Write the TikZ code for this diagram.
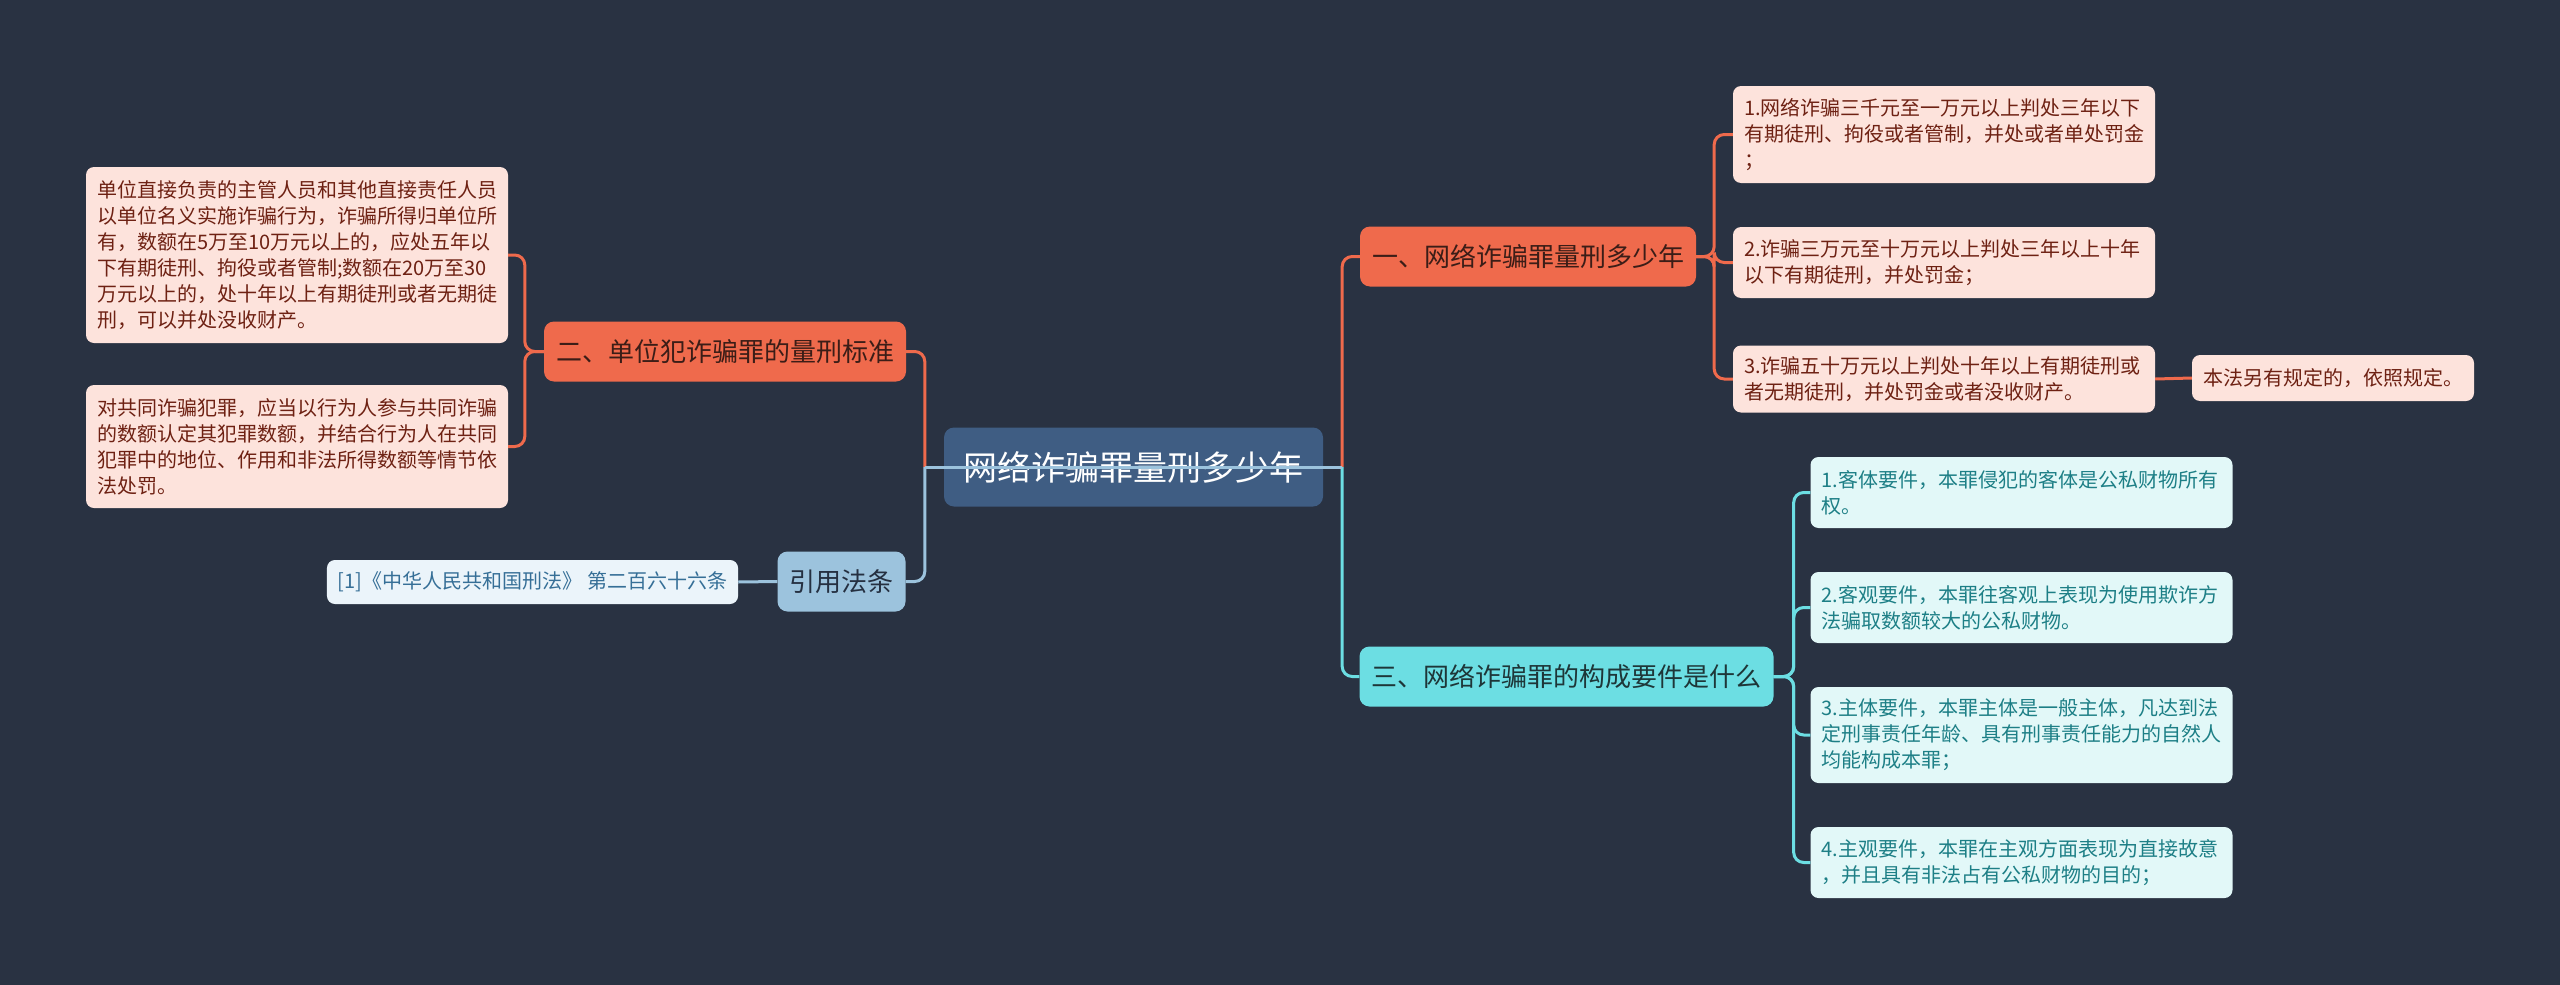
\documentclass[tikz,border=0pt]{standalone}
\usepackage{fontspec}
\newfontfamily\cjk{Noto Sans CJK SC}
\definecolor{bg}{HTML}{293242}
\definecolor{hubblue}{HTML}{3F5D83}
\definecolor{redmain}{HTML}{EF6A4C}
\definecolor{redtext}{HTML}{3B1D17}
\definecolor{redpale}{HTML}{FDE3DC}
\definecolor{redleaftext}{HTML}{6E2113}
\definecolor{cyanmain}{HTML}{6CDEE3}
\definecolor{cyantext}{HTML}{1E3638}
\definecolor{cyanpale}{HTML}{E2F8F8}
\definecolor{cyanleaftext}{HTML}{1D7F86}
\definecolor{refmain}{HTML}{9CC3DD}
\definecolor{reftext}{HTML}{253041}
\definecolor{refpale}{HTML}{EBF4FA}
\definecolor{refleaftext}{HTML}{366F97}
\begin{document}
\begin{tikzpicture}[x=1pt,y=-1pt,
    hub/.style={fill=hubblue,text=white,rounded corners=10pt,minimum width=379pt,minimum height=79pt,font=\cjk\fontsize{34pt}{40pt}\selectfont},
    topic/.style={rounded corners=10pt,inner xsep=12pt,minimum height=60pt,font=\cjk\fontsize{26pt}{30pt}\selectfont},
    redtopic/.style={topic,fill=redmain,text=redtext},
    cyantopic/.style={topic,fill=cyanmain,text=cyantext},
    reftopic/.style={topic,fill=refmain,text=reftext},
    leaf/.style={rounded corners=8pt,inner xsep=11pt,inner ysep=0pt,text width=400pt,align=left,font=\cjk\fontsize{20pt}{26pt}\selectfont},
    redleaf/.style={leaf,fill=redpale,text=redleaftext},
    cyanleaf/.style={leaf,fill=cyanpale,text=cyanleaftext},
    refleaf/.style={leaf,fill=refpale,text=refleaftext,text width=,align=center,minimum width=411pt,minimum height=44pt},
    link/.style={line width=3pt,rounded corners=10pt},
    redlink/.style={link,draw=redmain},
    cyanlink/.style={link,draw=cyanmain},
    reflink/.style={link,draw=refmain}]
  \fill[bg] (0,0) rectangle (2560,985);
  % centre and main topics
  \node[hub] (hub) at (1133.5,467) {网络诈骗罪量刑多少年};
  \node[redtopic] (one) at (1528,256.5) {一、网络诈骗罪量刑多少年};
  \node[redtopic] (two) at (725,351.5) {二、单位犯诈骗罪的量刑标准};
  \node[cyantopic] (three) at (1566.5,676.5) {三、网络诈骗罪的构成要件是什么};
  \node[reftopic] (law) at (841.5,581.5) {引用法条};
  % left side
  \node[redleaf,minimum height=176pt] (twoa) at (297,255) {单位直接负责的主管人员和其他直接责任人员\\以单位名义实施诈骗行为，诈骗所得归单位所\\有，数额在5万至10万元以上的，应处五年以\\下有期徒刑、拘役或者管制;数额在20万至30\\万元以上的，处十年以上有期徒刑或者无期徒\\刑，可以并处没收财产。};
  \node[redleaf,minimum height=123pt] (twob) at (297,446.5) {对共同诈骗犯罪，应当以行为人参与共同诈骗\\的数额认定其犯罪数额，并结合行为人在共同\\犯罪中的地位、作用和非法所得数额等情节依\\法处罚。};
  \node[refleaf] (lawa) at (532.5,582) {[1]《中华人民共和国刑法》 第二百六十六条};
  % right side, first topic
  \node[redleaf,minimum height=97pt] (onea) at (1944,134.5) {1.网络诈骗三千元至一万元以上判处三年以下\\有期徒刑、拘役或者管制，并处或者单处罚金\\；};
  \node[redleaf,minimum height=71pt] (oneb) at (1944,262.5) {2.诈骗三万元至十万元以上判处三年以上十年\\以下有期徒刑，并处罚金；};
  \node[redleaf,minimum height=67pt] (onec) at (1944,379) {3.诈骗五十万元以上判处十年以上有期徒刑或\\者无期徒刑，并处罚金或者没收财产。};
  \node[redleaf,text width=260pt,minimum height=46pt] (onecx) at (2333,378) {本法另有规定的，依照规定。};
  % right side, third topic
  \node[cyanleaf,minimum height=71pt] (threea) at (2021.5,492.5) {1.客体要件，本罪侵犯的客体是公私财物所有\\权。};
  \node[cyanleaf,minimum height=71pt] (threeb) at (2021.5,607.5) {2.客观要件，本罪往客观上表现为使用欺诈方\\法骗取数额较大的公私财物。};
  \node[cyanleaf,minimum height=96pt] (threec) at (2021.5,735) {3.主体要件，本罪主体是一般主体，凡达到法\\定刑事责任年龄、具有刑事责任能力的自然人\\均能构成本罪；};
  \node[cyanleaf,minimum height=71pt] (threed) at (2021.5,862.5) {4.主观要件，本罪在主观方面表现为直接故意\\，并且具有非法占有公私财物的目的；};
  % connectors
  \coordinate (hubl) at ([xshift=-19pt]hub.west);
  \coordinate (hubr) at ([xshift=19pt]hub.east);
  \draw[redlink] (hubr) |- (one.west);
  \draw[cyanlink] (hubr) |- (three.west);
  \draw[redlink] (hubl) |- (two.east);
  \draw[reflink] (hubl) |- (law.east);
  \draw[reflink] (hubl) -- (hubr);
  \draw[reflink] (law.west) -- (lawa.east);
  \foreach \leaf in {twoa,twob}
    \draw[redlink] (two.west) -- ++(-19,0) |- (\leaf.east);
  \foreach \leaf in {onea,oneb,onec}
    \draw[redlink] (one.east) -- ++(18,0) |- (\leaf.west);
  \draw[redlink] (onec.east) -- (onecx.west);
  \foreach \leaf in {threea,threeb,threec,threed}
    \draw[cyanlink] (three.east) -- ++(20,0) |- (\leaf.west);
\end{tikzpicture}
\end{document}
